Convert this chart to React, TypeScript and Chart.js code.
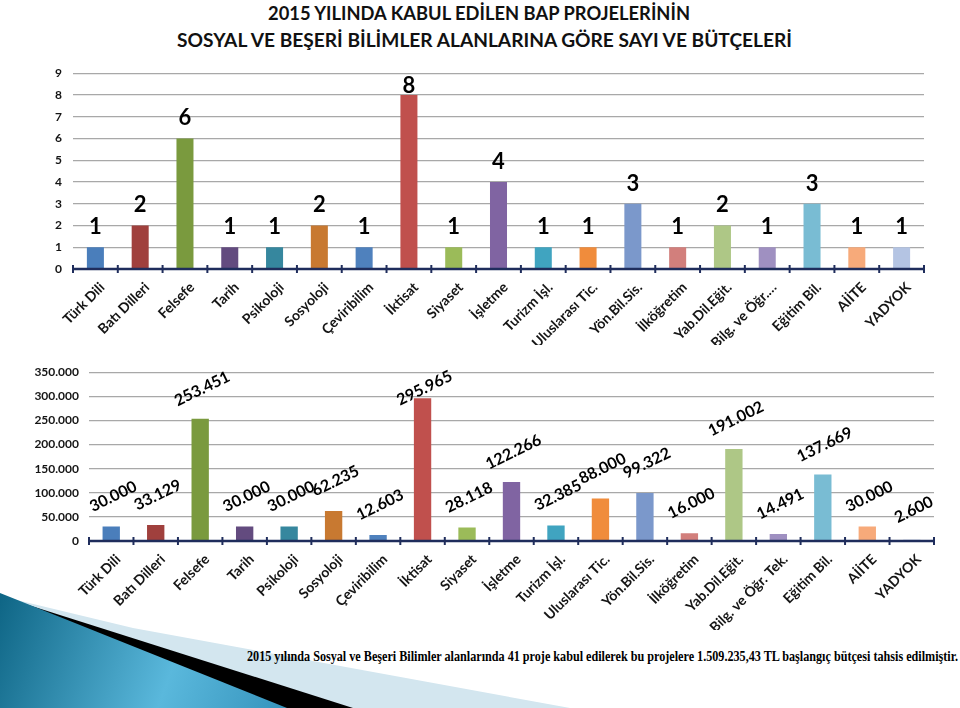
import React, { useEffect, useLayoutEffect, useRef } from "react";
import { Chart, registerables } from "chart.js";
Chart.register(...registerables);

const FONT = "Lato, 'Open Sans', sans-serif";
const NAVY = "#1f2d5c";

const titleLines = [
  "2015 YILINDA KABUL EDİLEN BAP PROJELERİNİN",
  "SOSYAL VE BEŞERİ BİLİMLER ALANLARINA GÖRE SAYI VE BÜTÇELERİ",
];
const captionText =
  "2015 yılında Sosyal ve Beşeri Bilimler alanlarında 41 proje kabul edilerek bu projelere 1.509.235,43 TL başlangıç bütçesi tahsis edilmiştir.";

const topCategories = [
  "Türk Dili", "Batı Dilleri", "Felsefe", "Tarih", "Psikoloji", "Sosyoloji",
  "Çeviribilim", "İktisat", "Siyaset", "İşletme", "Turizm İşl.", "Uluslarası Tic.",
  "Yön.Bil.Sis.", "İlköğretim", "Yab.Dil.Eğit.", "Bilg. ve Öğr.…", "Eğitim Bil.",
  "AİİTE", "YADYOK",
];
const bottomCategories = [
  "Türk Dili", "Batı Dilleri", "Felsefe", "Tarih", "Psikoloji", "Sosyoloji",
  "Çeviribilim", "İktisat", "Siyaset", "İşletme", "Turizm İşl.", "Uluslarası Tic.",
  "Yön.Bil.Sis.", "İlköğretim", "Yab.Dil.Eğit.", "Bilg. ve Öğr. Tek.", "Eğitim Bil.",
  "AİİTE", "YADYOK",
];
const projectCounts = [1, 2, 6, 1, 1, 2, 1, 8, 1, 4, 1, 1, 3, 1, 2, 1, 3, 1, 1];
const budgets = [
  30000, 33129, 253451, 30000, 30000, 62235, 12603, 295965, 28118, 122266,
  32385, 88000, 99322, 16000, 191002, 14491, 137669, 30000, 2600,
];
const barColors = [
  "#4a7ebb", "#a0403d", "#7a9a3e", "#634b7f", "#36879e", "#c87931", "#4f81bd",
  "#c0504d", "#9bbb59", "#8064a2", "#40a4c0", "#f08c3c", "#7b98cb", "#d27f7c",
  "#aec786", "#9f90c1", "#79bcd3", "#f7aa7a", "#b4c4e3",
];
const countAxisMax = 9;
const budgetAxisMax = 350000;
const budgetAxisStep = 50000;

const fmt = (v: number) => v.toLocaleString("de-DE");

const axisPlugin = {
  id: "navyAxis",
  afterDatasetsDraw(chart: any) {
    const { ctx, chartArea } = chart;
    const n = chart.data.labels.length;
    const y = chartArea.bottom;
    ctx.save();
    ctx.strokeStyle = NAVY;
    ctx.lineWidth = 2.5;
    ctx.beginPath();
    ctx.moveTo(chartArea.left, y);
    ctx.lineTo(chartArea.right, y);
    ctx.stroke();
    ctx.lineWidth = 2;
    for (let i = 0; i <= n; i++) {
      const x = chartArea.left + ((chartArea.right - chartArea.left) * i) / n;
      ctx.beginPath();
      ctx.moveTo(x, y - 4);
      ctx.lineTo(x, y + 4);
      ctx.stroke();
    }
    // rotated category labels, anchored at their right end under each category
    const xs = chart.scales.x;
    ctx.font = `bold 14px ${FONT}`;
    ctx.fillStyle = "#151515";
    ctx.textAlign = "right";
    ctx.textBaseline = "middle";
    chart.data.labels.forEach((lab: string, i: number) => {
      const x = xs.getPixelForTick(i);
      ctx.save();
      ctx.translate(x + 7, y + 16);
      ctx.rotate(-Math.PI / 4);
      ctx.fillText(lab, 0, 0);
      ctx.restore();
    });
    ctx.restore();
  },
};

const countLabelPlugin = {
  id: "countLabels",
  afterDatasetsDraw(chart: any) {
    const { ctx, chartArea } = chart;
    const meta = chart.getDatasetMeta(0);
    ctx.save();
    ctx.font = `bold 22px ${FONT}`;
    ctx.fillStyle = "#000";
    ctx.textAlign = "center";
    ctx.textBaseline = "alphabetic";
    meta.data.forEach((el: any, i: number) => {
      const v = chart.data.datasets[0].data[i];
      const y = Math.max(el.y - 13, chartArea.top + 20);
      ctx.fillText(String(v), el.x, y);
    });
    ctx.restore();
  },
};

const budgetLabelPlugin = {
  id: "budgetLabels",
  afterDatasetsDraw(chart: any) {
    const { ctx, chartArea } = chart;
    const meta = chart.getDatasetMeta(0);
    ctx.save();
    ctx.font = `bold 16px ${FONT}`;
    ctx.fillStyle = "#000";
    ctx.textAlign = "center";
    ctx.textBaseline = "middle";
    meta.data.forEach((el: any, i: number) => {
      const v = chart.data.datasets[0].data[i];
      const y = Math.max(el.y - 30, chartArea.top + 16);
      ctx.save();
      ctx.translate(el.x + 2, y);
      ctx.rotate((-26 * Math.PI) / 180);
      ctx.fillText(fmt(v), 0, 0);
      ctx.restore();
    });
    ctx.restore();
  },
};

function makeChart(
  canvas: HTMLCanvasElement,
  o: {
    labels: string[];
    data: number[];
    max: number;
    step: number;
    yWidth: number;
    yPad: number;
    top: number;
    right: number;
    xHeight: number;
    barPct: number;
    tickFmt: (v: number) => string;
    labelPlugin: any;
  }
) {
  return new Chart(canvas, {
    type: "bar",
    data: {
      labels: o.labels,
      datasets: [
        {
          data: o.data,
          backgroundColor: barColors,
          borderWidth: 0,
          barPercentage: o.barPct,
          categoryPercentage: 1,
        },
      ],
    },
    options: {
      animation: false,
      responsive: true,
      maintainAspectRatio: false,
      layout: { padding: { top: o.top, right: o.right, left: 0, bottom: 0 } },
      plugins: { legend: { display: false }, tooltip: { enabled: false }, title: { display: false } },
      scales: {
        x: {
          grid: { display: false },
          border: { display: false },
          ticks: { display: false },
          afterFit: (s: any) => {
            s.height = o.xHeight;
          },
        },
        y: {
          min: 0,
          max: o.max,
          grid: { color: "#a8a8a8", lineWidth: 1.2, drawTicks: false },
          border: { display: false },
          ticks: {
            stepSize: o.step,
            padding: o.yPad,
            color: "#151515",
            font: { family: FONT, size: 12, weight: "bold" },
            callback: (v: any) => o.tickFmt(Number(v)),
          },
          afterFit: (s: any) => {
            s.width = o.yWidth;
          },
        },
      },
    },
    plugins: [axisPlugin, o.labelPlugin],
  } as any);
}

function FitText(props: { text: string; left: number; top: number; width: number; font: string; color?: string }) {
  const ref = useRef<HTMLSpanElement>(null);
  useLayoutEffect(() => {
    const el = ref.current;
    if (!el) return;
    el.style.transform = "none";
    const w = el.getBoundingClientRect().width;
    if (w > 0) el.style.transform = `scaleX(${props.width / w})`;
  }, [props.text, props.width, props.font]);
  return (
    <span
      ref={ref}
      style={{
        position: "absolute",
        left: props.left,
        top: props.top,
        whiteSpace: "nowrap",
        transformOrigin: "0 0",
        font: props.font,
        lineHeight: 1,
        color: props.color || "#111",
      }}
    >
      {props.text}
    </span>
  );
}

export default function App() {
  const topRef = useRef<HTMLCanvasElement>(null);
  const botRef = useRef<HTMLCanvasElement>(null);

  useEffect(() => {
    const c1 = makeChart(topRef.current!, {
      labels: topCategories,
      data: projectCounts,
      max: countAxisMax,
      step: 1,
      yWidth: 73,
      yPad: 11,
      top: 12,
      right: 36,
      xHeight: 76,
      barPct: 0.38,
      tickFmt: (v) => String(v),
      labelPlugin: countLabelPlugin,
    });
    const c2 = makeChart(botRef.current!, {
      labels: bottomCategories,
      data: budgets,
      max: budgetAxisMax,
      step: budgetAxisStep,
      yWidth: 89,
      yPad: 10,
      top: 17,
      right: 26,
      xHeight: 89,
      barPct: 0.39,
      tickFmt: fmt,
      labelPlugin: budgetLabelPlugin,
    });
    return () => {
      c1.destroy();
      c2.destroy();
    };
  }, []);

  return (
    <div
      style={{
        position: "absolute",
        left: 0,
        top: 0,
        width: 960,
        height: 708,
        background: "#fff",
        overflow: "hidden",
      }}
    >
      <svg width={960} height={708} style={{ position: "absolute", left: 0, top: 0 }}>
        <defs>
          <linearGradient id="blueG" x1="0" y1="600" x2="290" y2="705" gradientUnits="userSpaceOnUse">
            <stop offset="0" stopColor="#0f6686" />
            <stop offset="0.6" stopColor="#5ab8dc" />
            <stop offset="1" stopColor="#3593bc" />
          </linearGradient>
        </defs>
        <polygon points="0,596 133,628 570,708 0,708" fill="#d3e6ef" />
        <polygon points="0,596 353,708 0,708" fill="#000000" />
        <polygon points="0,593 287,708 0,708" fill="url(#blueG)" />
      </svg>
      <FitText text={titleLines[0]} left={268} top={4} width={422} font={`bold 18px ${FONT}`} />
      <FitText text={titleLines[1]} left={177} top={31} width={615} font={`bold 18px ${FONT}`} />
      <div style={{ position: "absolute", left: 0, top: 55, width: 960, height: 290 }}>
        <canvas ref={topRef} />
      </div>
      <div style={{ position: "absolute", left: 0, top: 355, width: 960, height: 275 }}>
        <canvas ref={botRef} />
      </div>
      <FitText
        text={captionText}
        left={247}
        top={650}
        width={711}
        font={"bold 14px 'Liberation Serif', 'Times New Roman', serif"}
        color="#000"
      />
    </div>
  );
}
